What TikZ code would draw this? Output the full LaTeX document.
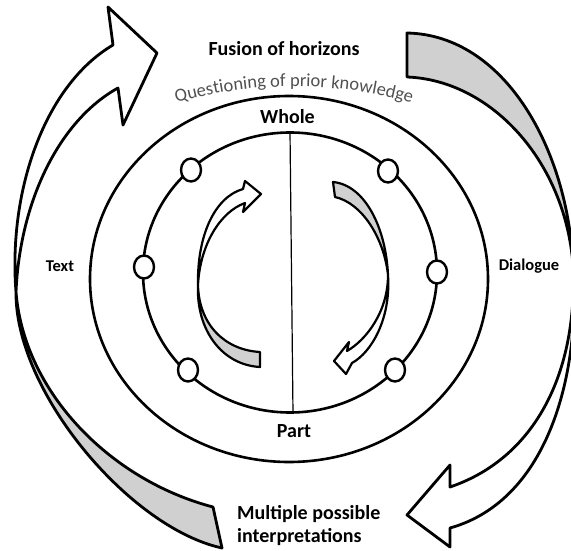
\documentclass[tikz,border=0pt]{standalone}
\usepackage{fontspec}
\setmainfont{Carlito}
\usetikzlibrary{shapes.geometric,decorations.text}
\definecolor{ribbongray}{RGB}{208,208,208}
\definecolor{qtext}{RGB}{80,80,80}
\newcommand\qtfont{\fontsize{18.5}{22}\selectfont}
\begin{document}
\begin{tikzpicture}[x=1pt,y=-1pt,
  ring/.style={draw, ellipse, line width=2.6pt, inner sep=0pt},
  dot/.style={draw, ellipse, fill=white, line width=2.4pt, minimum width=20pt, minimum height=23pt, inner sep=0pt},
  bigribbon/.style={draw, line width=2.8pt, line join=round},
  smallribbon/.style={draw, line width=2.2pt, line join=round},
  boldlabel/.style={font=\bfseries\fontsize{20}{24}\selectfont, inner sep=0pt},
  sidelabel/.style={font=\bfseries\fontsize{16.5}{20}\selectfont, inner sep=0pt},
]
\useasboundingbox (0,0) rectangle (571,551);

% rings
\node[ring, minimum width=398pt, minimum height=366pt] (outerring) at (289,279) {};
\node[ring, minimum width=294pt, minimum height=280pt] (innerring) at (290,272.5) {};
\draw[line width=1.2pt] (innerring.north) -- ([xshift=3pt]innerring.south);

% dots on the inner ring
\node[dot] (dl1) at (191,170) {};
\node[dot] (dl2) at (144,267) {};
\node[dot] (dl3) at (188,370) {};
\node[dot] (dr1) at (388,171) {};
\node[dot] (dr2) at (437,272) {};
\node[dot] (dr3) at (395,370) {};

% big left arrow
\draw[bigribbon, fill=white] (113,45) .. controls (45,85) and (8,190) .. (16,292)
  .. controls (20,200) and (60,120) .. (118,88) -- (123,125) -- (157,53) -- (108,7) -- cycle;
\draw[bigribbon, fill=ribbongray] (16,292) .. controls (24,392) and (110,480) .. (213,507)
  -- (222,548) .. controls (130,528) and (15,392) .. (16,292) -- cycle;

% big right arrow
\draw[bigribbon, fill=ribbongray] (407,33) .. controls (505,35) and (568,150) .. (573,265)
  .. controls (565,160) and (490,80) .. (407,77) -- cycle;
\draw[bigribbon, fill=white] (573,265) .. controls (578,380) and (530,460) .. (450,487)
  -- (450,465) -- (407,515) -- (450,547) -- (450,528)
  .. controls (550,500) and (581,370) .. (573,265) -- cycle;

% small left arrow
\draw[smallribbon, fill=white] (243,189) .. controls (215,197) and (197,235) .. (198,285)
  .. controls (200,245) and (220,212) .. (245,203) -- (243,212) -- (261,194) -- (245,181) -- cycle;
\draw[smallribbon, fill=ribbongray] (198,285) .. controls (199,325) and (225,350) .. (260,352)
  -- (260,367) .. controls (222,365) and (196,330) .. (198,285) -- cycle;

% small right arrow
\draw[smallribbon, fill=ribbongray] (333,182) .. controls (365,185) and (386,228) .. (388,275)
  .. controls (384,238) and (362,203) .. (335,197) -- cycle;
\draw[smallribbon, fill=white] (388,275) .. controls (388,312) and (366,340) .. (347,351)
  -- (349,342) -- (334,361) -- (346,374) -- (352,363)
  .. controls (372,352) and (391,318) .. (388,275) -- cycle;

% curved text
\coordinate (qstart) at (175,103);
\coordinate (qend) at (413,103);
\path[decorate, decoration={text along path, text={|\qtfont|Questioning of prior knowledge}, text align=center, text color=qtext}]
  (qstart) .. controls (253,81) and (335,81) .. (qend);

% labels
\node[boldlabel, anchor=base] (fusion) at (284,56) {Fusion of horizons};
\node[boldlabel, anchor=base] (whole) at (287.5,124) {Whole};
\node[boldlabel, anchor=base] (part) at (294,437) {Part};
\node[boldlabel, anchor=base west] (multi1) at (237,519) {Multiple possible};
\node[boldlabel, anchor=base west] (multi2) at (237,542) {interpretations};
\node[sidelabel, anchor=base] (textlbl) at (60,271.5) {Text};
\node[sidelabel, anchor=base] (dialogue) at (529,270.5) {Dialogue};
\end{tikzpicture}
\end{document}
